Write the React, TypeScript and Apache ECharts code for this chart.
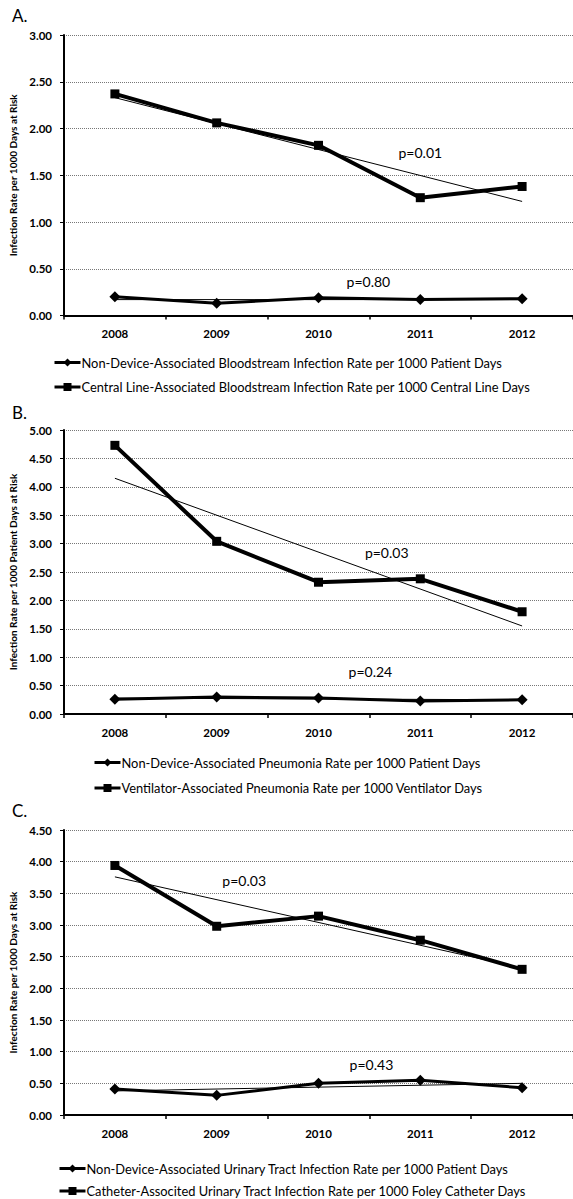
import React, { useEffect, useRef } from "react";
import * as echarts from "echarts";

const years = ["2008", "2009", "2010", "2011", "2012"];

// Panel A
const nonDeviceBsi = [0.2, 0.13, 0.19, 0.17, 0.18];
const clabsi = [2.37, 2.06, 1.82, 1.26, 1.38];
const nonDeviceBsiTrend = [0.17, 0.17];
const clabsiTrend = [2.33, 1.22];

// Panel B
const nonDevicePneu = [0.26, 0.3, 0.28, 0.23, 0.25];
const vap = [4.73, 3.04, 2.32, 2.38, 1.8];
const nonDevicePneuTrend = [0.28, 0.25];
const vapTrend = [4.15, 1.55];

// Panel C
const nonDeviceUti = [0.41, 0.31, 0.5, 0.55, 0.43];
const cauti = [3.94, 2.98, 3.14, 2.76, 2.3];
const nonDeviceUtiTrend = [0.38, 0.5];
const cautiTrend = [3.76, 2.32];

const yMax = [3, 5, 4.5];
const yNames = [
  "Infection Rate per 1000 Days at Risk",
  "Infection Rate per 1000 Patient Days at Risk",
  "Infection Rate per 1000 Days at Risk",
];
const panelLabels = ["A.", "B.", "C."];
const legendNames = [
  [
    "Non-Device-Associated Bloodstream Infection Rate per 1000 Patient Days",
    "Central Line-Associated Bloodstream Infection Rate per 1000 Central Line Days",
  ],
  [
    "Non-Device-Associated Pneumonia Rate per 1000 Patient Days",
    "Ventilator-Associated Pneumonia Rate per 1000 Ventilator Days",
  ],
  [
    "Non-Device-Associated Urinary Tract Infection Rate per 1000 Patient Days",
    "Catheter-Associted Urinary Tract Infection Rate per 1000 Foley Catheter Days",
  ],
];
const pTexts = ["p=0.01", "p=0.80", "p=0.03", "p=0.24", "p=0.03", "p=0.43"];

// layout (pixels / anchor positions)
const grids = [
  { top: 35, height: 280.5 },
  { top: 430, height: 284 },
  { top: 830, height: 285 },
];
const legendLayout = [
  { left: 53, rows: [361, 385.5] },
  { left: 93, rows: [761, 786.5] },
  { left: 58, rows: [1167, 1189.5] },
];
const legendTargetWidth = 421; // width of first legend text in reference (px)
const labelPos = [
  { x: 12, y: 15 },
  { x: 12, y: 412 },
  { x: 12, y: 810 },
];
const pAnchors = [
  { g: 0, x: 3.0, y: 1.74 },
  { g: 0, x: 2.49, y: 0.36 },
  { g: 1, x: 2.67, y: 2.85 },
  { g: 1, x: 2.51, y: 0.745 },
  { g: 2, x: 1.27, y: 3.71 },
  { g: 2, x: 2.52, y: 0.79 },
];

const FONT = "Lato, 'Open Sans', sans-serif";

function legendFontSize() {
  try {
    const c = document.createElement("canvas");
    const ctx = c.getContext("2d")!;
    ctx.font = `12px ${FONT}`;
    const w = ctx.measureText(legendNames[0][0]).width;
    if (w > 0) return Math.min(14, Math.max(11, (12 * legendTargetWidth) / w));
  } catch (e) {}
  return 12.5;
}

function mainSeries(name: string, data: number[], idx: number, symbol: string, size: number, width: number) {
  return {
    name,
    type: "line",
    xAxisIndex: idx,
    yAxisIndex: idx,
    data,
    symbol,
    symbolSize: size,
    showSymbol: true,
    itemStyle: { color: "#000" },
    lineStyle: { color: "#000", width },
    z: 3,
  };
}
function trendSeries(name: string, ends: number[], idx: number) {
  return {
    name,
    type: "line",
    xAxisIndex: idx,
    yAxisIndex: idx,
    data: [[0, ends[0]], [4, ends[1]]],
    symbol: "none",
    lineStyle: { color: "#000", width: 1 },
    z: 4,
    silent: true,
  };
}

export default function App() {
  const ref = useRef<HTMLDivElement>(null);
  useEffect(() => {
    document.body.style.margin = "0";
    const chart = echarts.init(ref.current!, null, { renderer: "svg" });
    const lf = legendFontSize();
    const gridOpt = grids.map((g) => ({ left: 64, width: 509, top: g.top, height: g.height }));
    const xAxes = grids.map((_, i) => ({
      type: "category",
      gridIndex: i,
      data: years,
      boundaryGap: true,
      axisLine: { lineStyle: { color: "#000", width: 2 } },
      axisTick: { show: true, length: 4, lineStyle: { color: "#000", width: 1.5 } },
      axisLabel: { color: "#000", fontFamily: FONT, fontWeight: "bold", fontSize: 11.5, margin: 12 },
    }));
    const yAxes = grids.map((_, i) => ({
      type: "value",
      gridIndex: i,
      min: 0,
      max: yMax[i],
      interval: 0.5,
      name: yNames[i],
      nameLocation: "middle",
      nameRotate: 90,
      nameGap: 44,
      nameTextStyle: { color: "#000", fontFamily: FONT, fontWeight: "bold", fontSize: 10 },
      axisLine: { show: true, lineStyle: { color: "#000", width: 2 } },
      axisTick: { show: true, length: 4, lineStyle: { color: "#000", width: 1 } },
      axisLabel: {
        color: "#000",
        fontFamily: FONT,
        fontWeight: "bold",
        fontSize: 11.5,
        margin: 12,
        formatter: (v: number) => v.toFixed(2),
      },
      splitLine: { show: true, lineStyle: { color: "#777", type: "dotted", width: 1 } },
    }));
    const series = [
      mainSeries(legendNames[0][0], nonDeviceBsi, 0, "diamond", 11, 3),
      mainSeries(legendNames[0][1], clabsi, 0, "rect", 9, 4),
      trendSeries("t1", nonDeviceBsiTrend, 0),
      trendSeries("t2", clabsiTrend, 0),
      mainSeries(legendNames[1][0], nonDevicePneu, 1, "diamond", 11, 3),
      mainSeries(legendNames[1][1], vap, 1, "rect", 9, 4),
      trendSeries("t3", nonDevicePneuTrend, 1),
      trendSeries("t4", vapTrend, 1),
      mainSeries(legendNames[2][0], nonDeviceUti, 2, "diamond", 11, 3),
      mainSeries(legendNames[2][1], cauti, 2, "rect", 9, 4),
      trendSeries("t5", nonDeviceUtiTrend, 2),
      trendSeries("t6", cautiTrend, 2),
    ];
    const legends: any[] = [];
    legendLayout.forEach((l, i) => {
      l.rows.forEach((cy, j) => {
        legends.push({
          left: l.left,
          top: cy - 5,
          orient: "horizontal",
          padding: 0,
          itemWidth: 26,
          itemHeight: 10,
          selectedMode: false,
          data: [legendNames[i][j]],
          lineStyle: { width: 3 },
          textStyle: { color: "#000", fontFamily: FONT, fontSize: lf, padding: [0, 0, 0, -4] },
        });
      });
    });
    chart.setOption({
      animation: false,
      backgroundColor: "#fff",
      grid: gridOpt,
      xAxis: xAxes,
      yAxis: yAxes,
      legend: legends,
      series,
    });
    const pGraphics = pAnchors.map((a, i) => {
      const i0 = Math.floor(a.x);
      const i1 = Math.min(i0 + 1, years.length - 1);
      const p0 = chart.convertToPixel({ gridIndex: a.g } as any, [i0, a.y]) as number[];
      const p1 = chart.convertToPixel({ gridIndex: a.g } as any, [i1, a.y]) as number[];
      const f = a.x - i0;
      return {
        type: "text",
        x: p0[0] + (p1[0] - p0[0]) * f,
        y: p0[1],
        style: {
          text: pTexts[i],
          fill: "#000",
          font: `14px ${FONT}`,
          textAlign: "center",
          textVerticalAlign: "middle",
        },
        z: 10,
      };
    });
    const labelGraphics = labelPos.map((p, i) => ({
      type: "text",
      x: p.x,
      y: p.y,
      style: {
        text: panelLabels[i],
        fill: "#000",
        font: `17px ${FONT}`,
        textAlign: "left",
        textVerticalAlign: "middle",
      },
    }));
    chart.setOption({ graphic: [...labelGraphics, ...pGraphics] });
    return () => chart.dispose();
  }, []);
  return <div ref={ref} style={{ width: 573, height: 1199 }} />;
}
